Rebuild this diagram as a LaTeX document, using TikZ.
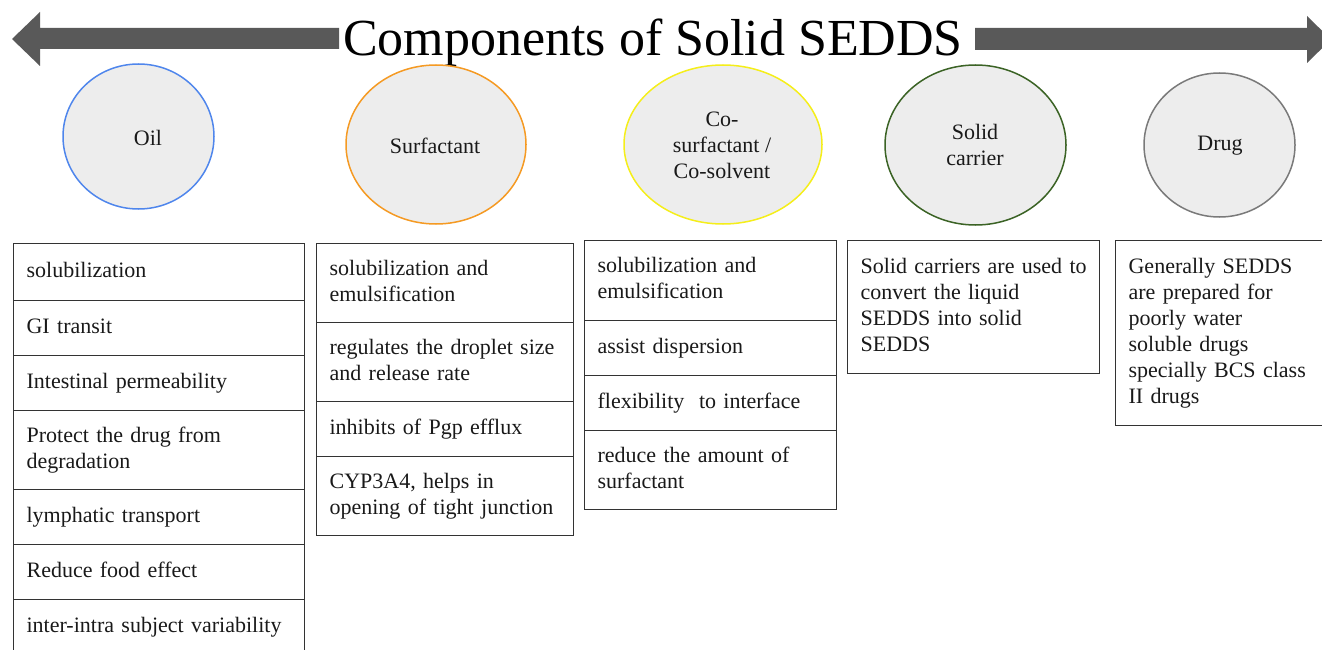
\documentclass[tikz,border=0pt]{standalone}
\usepackage{fontspec}
\setmainfont{Liberation Serif}
\usetikzlibrary{shapes.geometric}
\definecolor{arrowgrey}{HTML}{595959}
\definecolor{ellfill}{HTML}{EDEDED}
\definecolor{oilblue}{HTML}{4F86EC}
\definecolor{surforange}{HTML}{F59A23}
\definecolor{coyellow}{HTML}{F5EE1A}
\definecolor{solidgreen}{HTML}{3B6325}
\definecolor{druggrey}{HTML}{7A7A7A}
\definecolor{cellline}{HTML}{333333}
\begin{document}
\begin{tikzpicture}[x=1pt,y=-1pt,
  comp/.style={ellipse, draw, line width=1.5pt, fill=ellfill, inner sep=0pt},
  lbl/.style={font=\fontsize{22}{26}\selectfont, align=center, inner sep=0pt, text=black!90},
  cell/.style={draw=cellline, line width=1.2pt, anchor=north west, inner xsep=13pt, inner ysep=0pt,
    align=left, text width=#1, font=\fontsize{22}{26}\selectfont, text=black!90,
    execute at begin node=\strut, execute at end node=\strut},
  bigarrow/.style={fill=arrowgrey, draw=none}
]
\useasboundingbox (0,0) rectangle (1322,650);
\clip (0,0) rectangle (1322,650);

% title arrows
\fill[bigarrow] (339,28) -- (40,28) -- (40,12) -- (12,39) -- (40,66) -- (40,49) -- (339,49) -- cycle;
\fill[bigarrow] (975,28) -- (1307,28) -- (1307,16) -- (1331,39.5) -- (1307,63) -- (1307,50) -- (975,50) -- cycle;
\node[anchor=base, inner sep=0pt, font=\fontsize{52}{60}\selectfont] (title) at (653,56) {Components of Solid SEDDS};

% component ellipses
\node[comp, draw=oilblue, minimum width=151pt, minimum height=145pt] (oil) at (138.5,136.5) {};
\node[lbl] (oiltxt) at (148,138) {Oil};
\node[comp, draw=surforange, minimum width=180pt, minimum height=159pt] (surf) at (436,144.5) {};
\node[lbl] (surftxt) at (435,146) {Surfactant};
\node[comp, draw=coyellow, minimum width=198pt, minimum height=159pt] (cosurf) at (723,144.5) {};
\node[lbl] (cosurftxt) at (722,145) {Co-\\surfactant /\\Co-solvent};
\node[comp, draw=solidgreen, minimum width=181pt, minimum height=160pt] (solid) at (975.5,145) {};
\node[lbl] (solidtxt) at (975,145) {Solid\\carrier};
\node[comp, draw=druggrey, minimum width=151pt, minimum height=144pt] (drug) at (1219.5,145) {};
\node[lbl] (drugtxt) at (1220,146) {Drug};

% Oil table (cell width 291)
\node[cell=265pt, minimum height=57pt] (o1) at (13,243) {solubilization};
\node[cell=265pt, minimum height=55pt] (o2) at (13,300) {GI transit};
\node[cell=265pt, minimum height=55pt] (o3) at (13,355) {Intestinal permeability};
\node[cell=265pt, minimum height=79pt] (o4) at (13,410) {Protect the drug from\\degradation};
\node[cell=265pt, minimum height=55pt] (o5) at (13,489) {lymphatic transport};
\node[cell=265pt, minimum height=55pt] (o6) at (13,544) {Reduce food effect};
\node[cell=265pt, minimum height=55pt] (o7) at (13,599) {inter-intra subject variability};

% Surfactant table (cell width 257)
\node[cell=231pt, minimum height=79pt] (s1) at (316,243) {solubilization and\\emulsification};
\node[cell=231pt, minimum height=79pt] (s2) at (316,322) {regulates the droplet size\\and release rate};
\node[cell=231pt, minimum height=55pt] (s3) at (316,401) {inhibits of Pgp efflux};
\node[cell=231pt, minimum height=79pt] (s4) at (316,456) {CYP3A4, helps in\\opening of tight junction};

% Co-surfactant table (cell width 252)
\node[cell=226pt, minimum height=80pt] (c1) at (584,240) {solubilization and\\emulsification};
\node[cell=226pt, minimum height=55pt] (c2) at (584,320) {assist dispersion};
\node[cell=226pt, minimum height=55pt] (c3) at (584,375) {flexibility~ to interface};
\node[cell=226pt, minimum height=79pt] (c4) at (584,430) {reduce the amount of\\surfactant};

% Solid carrier box (cell width 252)
\node[cell=226pt, minimum height=133pt] (sc) at (847,240) {\mbox{Solid carriers are used to}\\convert the liquid\\SEDDS into solid\\SEDDS};

% Drug box
\node[cell=200pt, minimum height=185pt] (dr) at (1115,240) {Generally SEDDS\\are prepared for\\poorly water\\soluble drugs\\specially BCS class\\II drugs};
\end{tikzpicture}
\end{document}
